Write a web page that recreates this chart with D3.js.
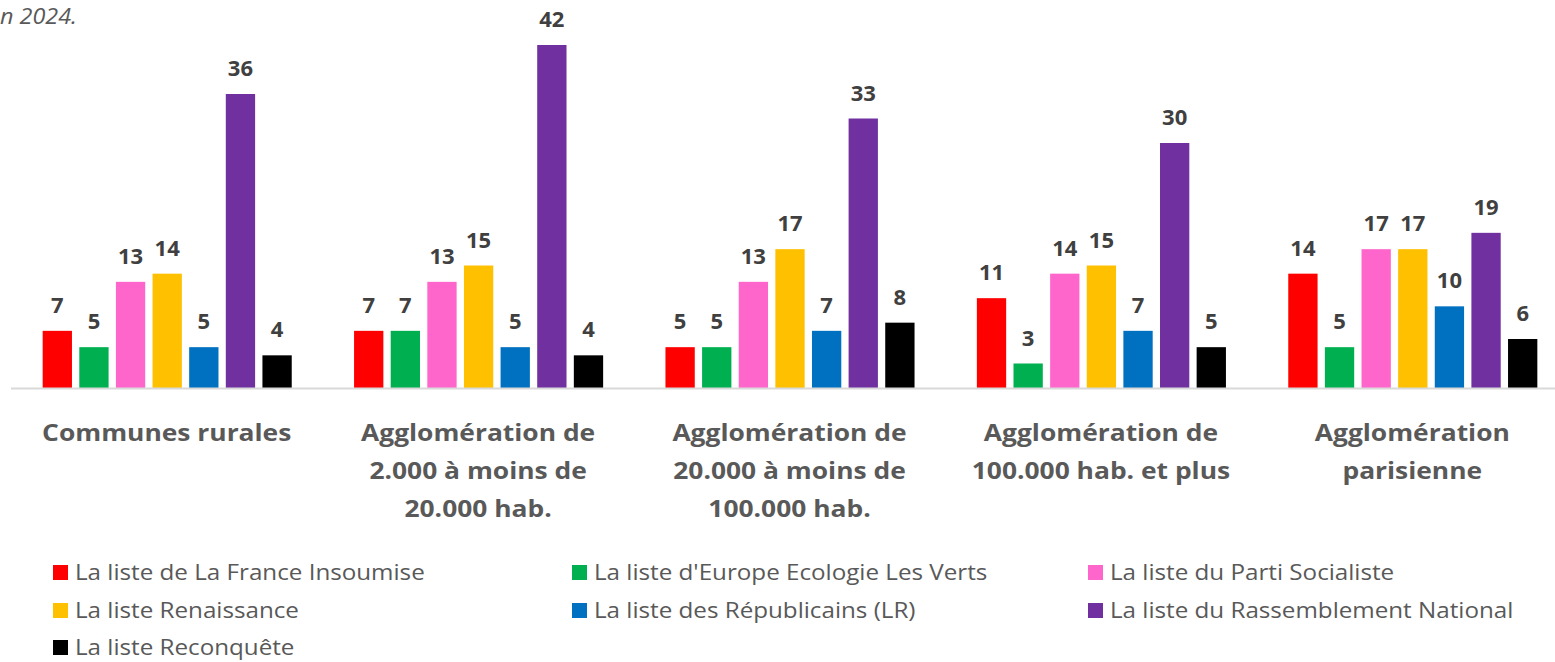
<!DOCTYPE html>
<html>
<head>
<meta charset="utf-8">
<script src="https://cdn.jsdelivr.net/npm/d3@7"></script>
<style>
  html, body { margin: 0; padding: 0; background: #fff; overflow: hidden; }
  svg { display: block; font-family: "Open Sans", sans-serif; }
</style>
</head>
<body>
<svg id="chart" width="1555" height="662"></svg>
<script>
'use strict';

// categories (each label split in lines)
const categories = [
  ['Communes rurales'],
  ['Agglomération de', '2.000 à moins de', '20.000 hab.'],
  ['Agglomération de', '20.000 à moins de', '100.000 hab.'],
  ['Agglomération de', '100.000 hab. et plus'],
  ['Agglomération', 'parisienne']
];

const seriesNames = [
  'La liste de La France Insoumise',
  "La liste d'Europe Ecologie Les Verts",
  'La liste du Parti Socialiste',
  'La liste Renaissance',
  'La liste des Républicains (LR)',
  'La liste du Rassemblement National',
  'La liste Reconquête'
];

const seriesColors = ['#FF0000', '#00B050', '#FF66CC', '#FFC000', '#0070C0', '#7030A0', '#000000'];

// values per series, one per category
const lfi = [7, 7, 5, 11, 14];
const eelv = [5, 7, 5, 3, 5];
const ps = [13, 13, 13, 14, 17];
const renaissance = [14, 15, 17, 15, 17];
const lr = [5, 5, 7, 7, 10];
const rn = [36, 42, 33, 30, 19];
const reconquete = [4, 4, 8, 5, 6];

const seriesValues = [lfi, eelv, ps, renaissance, lr, rn, reconquete];

const svg = d3.select('#chart');

const x0 = d3.scaleBand()
    .domain(d3.range(categories.length))
    .range([11, 1568])
    .paddingInner(0)
    .paddingOuter(0);

const x1 = d3.scaleBand()
    .domain(d3.range(seriesNames.length))
    .range([28, x0.bandwidth() - 27])
    .paddingInner(0.2)
    .paddingOuter(0.1);

const y = d3.scaleLinear()
    .domain([0, 42])
    .range([388, 45]);

// clipped subtitle at top left
svg.append('text')
    .attr('x', 0)
    .attr('y', 24)
    .attr('font-size', 22)
    .attr('font-style', 'italic')
    .attr('fill', '#595959')
    .attr('textLength', 77)
    .attr('lengthAdjust', 'spacingAndGlyphs')
    .text('n 2024.');

const groups = svg.selectAll('.group')
    .data(categories)
    .enter().append('g')
    .attr('class', 'group')
    .attr('transform', (d, i) => 'translate(' + x0(i) + ',0)');

groups.each(function(cat, ci) {
    const g = d3.select(this);
    const rows = seriesValues.map((vals, si) => ({ si: si, v: vals[ci] }));

    g.selectAll('rect')
        .data(rows)
        .enter().append('rect')
        .attr('x', d => x1(d.si))
        .attr('y', d => y(d.v))
        .attr('width', x1.bandwidth())
        .attr('height', d => y(0) - y(d.v))
        .attr('fill', d => seriesColors[d.si]);

    g.selectAll('.val')
        .data(rows)
        .enter().append('text')
        .attr('class', 'val')
        .attr('x', d => x1(d.si) + x1.bandwidth() / 2)
        .attr('y', d => y(d.v) - 18)
        .attr('text-anchor', 'middle')
        .attr('font-size', 22)
        .attr('font-weight', 'bold')
        .attr('fill', '#404040')
        .text(d => d.v);
});

// baseline
svg.append('line')
    .attr('x1', 11)
    .attr('x2', 1555)
    .attr('y1', y(0) + 0.5)
    .attr('y2', y(0) + 0.5)
    .attr('stroke', '#D9D9D9')
    .attr('stroke-width', 2);

// category labels, widened a bit to mimic the original font
const catLabels = svg.selectAll('.cat')
    .data(categories)
    .enter().append('g')
    .attr('class', 'cat')
    .attr('transform', (d, i) => 'translate(' + (x0(i) + x0.bandwidth() / 2) + ',0) scale(1.1,1)');

catLabels.each(function(lines) {
    d3.select(this).selectAll('text')
        .data(lines)
        .enter().append('text')
        .attr('x', 0)
        .attr('y', (d, k) => 441 + k * 38)
        .attr('text-anchor', 'middle')
        .attr('font-size', 24)
        .attr('font-weight', 'bold')
        .attr('fill', '#595959')
        .text(d => d);
});

// legend
const legendCols = [53, 572, 1088];
const legendRows = [565, 603, 640];

const legend = svg.selectAll('.legend')
    .data(seriesNames)
    .enter().append('g')
    .attr('class', 'legend')
    .attr('transform', (d, i) => 'translate(' + legendCols[i % 3] + ',' + legendRows[Math.floor(i / 3)] + ')');

legend.append('rect')
    .attr('width', 15)
    .attr('height', 15)
    .attr('fill', (d, i) => seriesColors[i]);

legend.append('g')
    .attr('transform', 'translate(22,15) scale(1.1,1)')
    .append('text')
    .attr('y', 0)
    .attr('font-size', 22)
    .attr('fill', '#595959')
    .text(d => d);
</script>
</body>
</html>
